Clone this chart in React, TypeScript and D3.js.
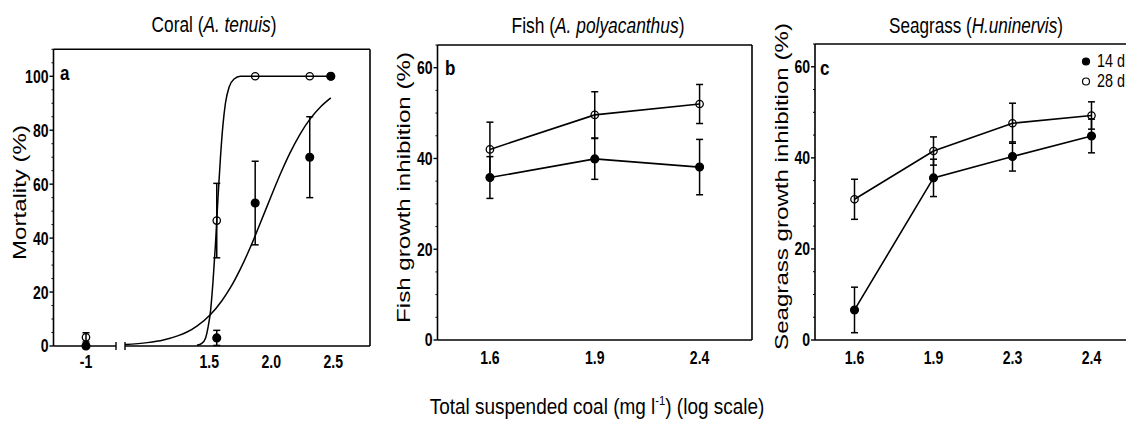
import React, { useEffect, useRef } from "react";
import * as d3 from "d3";

// coral mortality (%), x = log dose, -1 = control
const coralDoses = [-1, 1.56, 1.87, 2.31, 2.48];
const coral14 = [0, 3, 53, 70, 100];
const coral14Err = [0, 2.8, 15.5, 15, 0];
const coral28 = [3.2, 46.5, 100, 100, 100];
const coral28Err = [1.7, 13.8, 0, 0, 0];
const coralTicks = [-1, 1.5, 2.0, 2.5];
const coralTickLabels = ["-1", "1.5", "2.0", "2.5"];

// fitted curves
const fit14X = [0.82, 1.0, 1.13, 1.25, 1.32, 1.4, 1.51, 1.6, 1.67, 1.75, 1.83, 1.9, 2.0, 2.08, 2.15, 2.23, 2.31, 2.4, 2.48];
const fit14Y = [0.55, 1.25, 2.25, 3.85, 5.2, 7.4, 11.7, 16.7, 21.6, 28.5, 36.5, 44.3, 55.7, 64.5, 71.5, 78.4, 84, 88.8, 92];
const fit28X = [1.4, 1.44, 1.47, 1.49, 1.51, 1.53, 1.55, 1.57, 1.59, 1.61, 1.63, 1.66, 1.7, 1.75, 2.48];
const fit28Y = [0.3, 1, 3, 7, 13, 24, 38, 55, 70, 82, 90, 96, 99, 100, 100];

// fish growth inhibition (%)
const fishCats = ["1.6", "1.9", "2.4"];
const fish14 = [35.8, 39.9, 38.1];
const fish14Err = [4.6, 4.5, 6.1];
const fish28 = [42.0, 49.6, 52.0];
const fish28Err = [6.0, 5.1, 4.3];

// seagrass growth inhibition (%)
const grassCats = ["1.6", "1.9", "2.3", "2.4"];
const grass14 = [6.6, 35.6, 40.3, 44.8];
const grass14Err = [5.0, 4.1, 3.2, 3.7];
const grass28 = [30.9, 41.5, 47.6, 49.3];
const grass28Err = [4.4, 3.1, 4.4, 3.0];

const legendLabels = ["14 d", "28 d"];

const FONT = "'Liberation Sans', Arial, sans-serif";

// squeeze a text to a wanted length (the figure's text is narrow)
function fit(t, x, y, target, rot) {
    const len = t.node().getComputedTextLength();
    const s = len > 0 ? target / len : 1;
    t.attr("transform", `translate(${x},${y})${rot ? " rotate(-90)" : ""} scale(${s},1)`);
}

function boldNum(g, x, y, label, anchor, dy) {
    const t = g.append("text").attr("dy", dy).attr("text-anchor", anchor)
        .attr("font-weight", "bold").attr("font-size", 18).text(label);
    fit(t, x, y, t.node().getComputedTextLength() * 0.78, false);
}

function yAxis(g, y, left, max, majors) {
    const [y0, y1] = y.range();
    g.append("line").attr("x1", left).attr("x2", left).attr("y1", y0).attr("y2", y1)
        .attr("stroke", "#000").attr("stroke-width", 1.6);
    for (let v = 0; v <= max; v += 5) {
        const major = majors.includes(v);
        g.append("line").attr("x1", left - (major ? 4 : 2)).attr("x2", left)
            .attr("y1", y(v)).attr("y2", y(v)).attr("stroke", "#000").attr("stroke-width", major ? 1.4 : 1);
        if (major) boldNum(g, left - 5, y(v), v, "end", "0.36em");
    }
}

function frame(g, left, right, top, bottom) {
    g.append("line").attr("x1", left).attr("x2", right).attr("y1", top).attr("y2", top)
        .attr("stroke", "#000").attr("stroke-width", 1.6);
    g.append("line").attr("x1", right).attr("x2", right).attr("y1", top).attr("y2", bottom)
        .attr("stroke", "#000").attr("stroke-width", 1.6);
}

function errorBars(g, xs, ys, errs, x, y) {
    xs.forEach((xv, i) => {
        if (!errs[i]) return;
        const cx = x(xv);
        const lo = y(ys[i] - errs[i]);
        const hi = y(ys[i] + errs[i]);
        g.append("line").attr("x1", cx).attr("x2", cx).attr("y1", lo).attr("y2", hi)
            .attr("stroke", "#000").attr("stroke-width", 1.5);
        [lo, hi].forEach(yy => g.append("line").attr("x1", cx - 3.5).attr("x2", cx + 3.5)
            .attr("y1", yy).attr("y2", yy).attr("stroke", "#000").attr("stroke-width", 1.5));
    });
}

function markers(g, xs, ys, x, y, filled) {
    xs.forEach((xv, i) => {
        g.append("circle").attr("cx", x(xv)).attr("cy", y(ys[i])).attr("r", filled ? 3.9 : 3.7)
            .attr("fill", filled ? "#000" : "none").attr("stroke", "#000").attr("stroke-width", 1.3);
    });
}

function connect(g, xs, ys, x, y) {
    const line = d3.line().x(d => x(d[0])).y(d => y(d[1]));
    g.append("path").attr("d", line(xs.map((v, i) => [v, ys[i]])))
        .attr("fill", "none").attr("stroke", "#000").attr("stroke-width", 1.6);
}

function title(svg, cx, cy, len, name, species) {
    const t = svg.append("text").attr("text-anchor", "middle").attr("font-size", 22);
    t.append("tspan").text(name + " (");
    t.append("tspan").attr("font-style", "italic").text(species);
    t.append("tspan").text(")");
    fit(t, cx, cy, len, false);
}

function yLabel(svg, x, cy, len, text) {
    const t = svg.append("text").attr("text-anchor", "middle").attr("font-size", 18).text(text);
    fit(t, x, cy, len, true);
}

function panelLetter(svg, x, y, s) {
    const t = svg.append("text").attr("font-weight", "bold").attr("font-size", 20).text(s);
    fit(t, x, y, t.node().getComputedTextLength() * 0.85, false);
}

function categoryPanel(svg, left, right, top, bottom, cats, s14, e14, s28, e28) {
    const g = svg.append("g");
    const y = d3.scaleLinear().domain([0, 65]).range([bottom, top]);
    const x = d3.scalePoint().domain(cats).range([left, right]).padding(0.5);
    frame(g, left, right, top, bottom);
    g.append("line").attr("x1", left).attr("x2", right).attr("y1", bottom).attr("y2", bottom)
        .attr("stroke", "#000").attr("stroke-width", 1.6);
    yAxis(g, y, left, 65, [0, 20, 40, 60]);
    cats.forEach(c => boldNum(g, x(c), bottom + 24, c, "middle", 0));
    connect(g, cats, s28, x, y);
    connect(g, cats, s14, x, y);
    errorBars(g, cats, s28, e28, x, y);
    errorBars(g, cats, s14, e14, x, y);
    markers(g, cats, s28, x, y, false);
    markers(g, cats, s14, x, y, true);
}

function App() {
    const ref = useRef(null);

    useEffect(() => {
        const svg = d3.select(ref.current);
        svg.selectAll("*").remove();

        // ---- panel a: coral, broken x axis
        const aL = 53.5, aR = 370, aT = 49.3, aB = 346;
        const ga = svg.append("g");
        const ya = d3.scaleLinear().domain([0, 110]).range([aB, aT]);
        const xCtrl = d3.scaleLinear().domain([-1.262, -0.758]).range([aL, 116]);
        const xDose = d3.scaleLinear().domain([0.82, 2.796]).range([125, aR]);
        const xa = v => (v < 0 ? xCtrl(v) : xDose(v));

        frame(ga, aL, aR, aT, aB);
        ga.append("line").attr("x1", aL).attr("x2", 116).attr("y1", aB).attr("y2", aB)
            .attr("stroke", "#000").attr("stroke-width", 1.6);
        ga.append("line").attr("x1", 125).attr("x2", aR).attr("y1", aB).attr("y2", aB)
            .attr("stroke", "#000").attr("stroke-width", 1.6);
        [116, 125].forEach(bx => ga.append("line").attr("x1", bx).attr("x2", bx)
            .attr("y1", aB - 4).attr("y2", aB + 4).attr("stroke", "#000").attr("stroke-width", 1.4));
        yAxis(ga, ya, aL, 110, [0, 20, 40, 60, 80, 100]);
        coralTicks.forEach((t, i) => boldNum(ga, xa(t), aB + 22, coralTickLabels[i], "middle", 0));

        const curve = d3.line().x(d => xDose(d[0])).y(d => ya(d[1])).curve(d3.curveMonotoneX);
        ga.append("path").attr("d", curve(fit14X.map((v, i) => [v, fit14Y[i]])))
            .attr("fill", "none").attr("stroke", "#000").attr("stroke-width", 1.5);
        ga.append("path").attr("d", curve(fit28X.map((v, i) => [v, fit28Y[i]])))
            .attr("fill", "none").attr("stroke", "#000").attr("stroke-width", 1.5);

        errorBars(ga, coralDoses, coral28, coral28Err, xa, ya);
        errorBars(ga, coralDoses, coral14, coral14Err, xa, ya);
        markers(ga, coralDoses, coral28, xa, ya, false);
        markers(ga, coralDoses, coral14, xa, ya, true);

        // ---- panels b and c
        categoryPanel(svg, 437.5, 752, 45, 340, fishCats, fish14, fish14Err, fish28, fish28Err);
        categoryPanel(svg, 815, 1131, 44, 340, grassCats, grass14, grass14Err, grass28, grass28Err);

        // legend
        legendLabels.forEach((lab, i) => {
            svg.append("circle").attr("cx", 1086).attr("cy", 61.5 + i * 20).attr("r", 3.5)
                .attr("fill", i === 0 ? "#000" : "none").attr("stroke", "#000").attr("stroke-width", 1.2);
            const t = svg.append("text").attr("font-size", 18).text(lab);
            fit(t, 1097, 67 + i * 20, 28, false);
        });

        // titles and labels
        title(svg, 214, 32, 125, "Coral", "A. tenuis");
        title(svg, 598, 33, 173, "Fish", "A. polyacanthus");
        title(svg, 976, 33, 174, "Seagrass", "H.uninervis");

        yLabel(svg, 26, 192.5, 135, "Mortality  (%)");
        yLabel(svg, 410, 187.5, 271, "Fish growth inhibition  (%)");
        yLabel(svg, 788, 186.5, 327, "Seagrass growth inhibition  (%)");

        panelLetter(svg, 60, 80, "a");
        panelLetter(svg, 445, 75, "b");
        panelLetter(svg, 820, 75, "c");

        const xl = svg.append("text").attr("text-anchor", "middle").attr("font-size", 22);
        xl.append("tspan").text("Total suspended coal (mg l");
        xl.append("tspan").attr("dy", -9).attr("font-size", 13).text("-1");
        xl.append("tspan").attr("dy", 9).text(") (log scale)");
        fit(xl, 597, 414, 335, false);
    }, []);

    return (
        <svg ref={ref} width={1126} height={423}
            style={{ position: "absolute", left: 0, top: 0, background: "#fff", fontFamily: FONT }} />
    );
}

export default App;
